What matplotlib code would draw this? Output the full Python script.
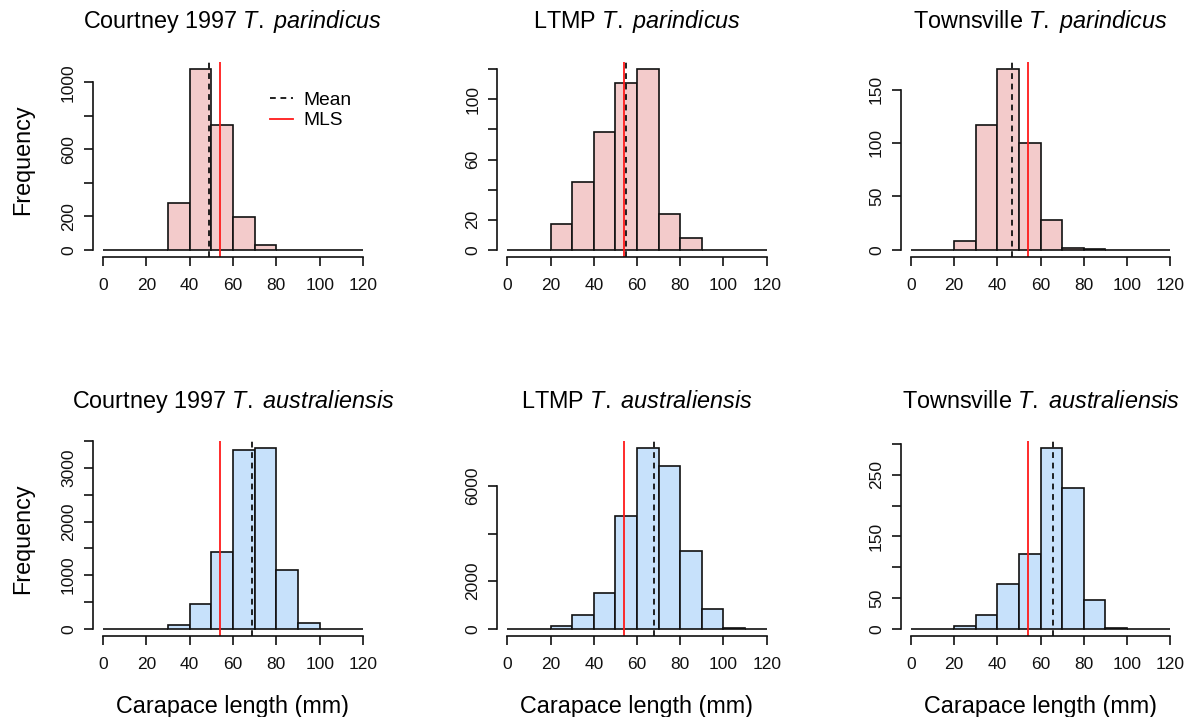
import matplotlib
matplotlib.use("Agg")
import matplotlib.pyplot as plt
from matplotlib.lines import Line2D
import numpy as np

plt.rcParams['font.family'] = ['Liberation Sans', 'DejaVu Sans']
plt.rcParams['mathtext.fontset'] = 'custom'
plt.rcParams['mathtext.rm'] = 'Liberation Sans'
plt.rcParams['mathtext.it'] = 'Liberation Sans:italic'

# histogram bins (mm), 10 mm wide, 0..120
breaks = np.arange(0, 130, 10)

# counts per bin
courtney_par = [0, 0, 0, 281, 1078, 743, 198, 30, 0, 0, 0, 0]
ltmp_par = [0, 0, 17, 45, 78, 111, 120, 24, 8, 0, 0, 0]
townsville_par = [0, 0, 8, 117, 169, 100, 28, 2, 1, 0, 0, 0]
courtney_aus = [0, 0, 0, 65, 467, 1431, 3345, 3369, 1089, 112, 0, 0]
ltmp_aus = [0, 0, 98, 573, 1514, 4724, 7585, 6828, 3252, 841, 40, 0]
townsville_aus = [0, 0, 5, 23, 72, 122, 293, 229, 46, 2, 0, 0]

# mean carapace length and minimum legal size
means_par = [49.0, 55.1, 46.6]
means_aus = [68.8, 68.0, 65.9]
mls = 54.0

sites = ["Courtney 1997", "LTMP", "Townsville"]
species = ["T.\\ parindicus", "T.\\ australiensis"]

# y ticks and the labels R actually kept
yticks = [
    [0, 200, 400, 600, 800, 1000],
    [0, 20, 40, 60, 80, 100, 120],
    [0, 50, 100, 150],
    [0, 500, 1000, 1500, 2000, 2500, 3000, 3500],
    [0, 2000, 4000, 6000],
    [0, 50, 100, 150, 200, 250, 300],
]
ylabels = [
    ["0", "200", "", "600", "", "1000"],
    ["0", "20", "", "60", "", "100", ""],
    ["0", "50", "100", "150"],
    ["0", "", "1000", "", "2000", "", "3000", ""],
    ["0", "2000", "", "6000"],
    ["0", "50", "", "150", "", "250", ""],
]

counts = [courtney_par, ltmp_par, townsville_par, courtney_aus, ltmp_aus, townsville_aus]
means = means_par + means_aus
fills = ["#F3CBCB"] * 3 + ["#C7E1FB"] * 3

W, H = 1189, 717
fig = plt.figure(figsize=(W / 100, H / 100), dpi=100)

col_left = [92.6, 496.9, 900.6]
col_right = [373.4, 777.1, 1180.7]
row_top = [62, 441]
row_bot = [257, 636]
title_base = [28.3, 407.7]

dash = (0, (3.2, 2.6))
ink = '#111111'

for i in range(6):
    r, c = divmod(i, 3)
    x0, x1 = col_left[c], col_right[c]
    y0, y1 = row_top[r], row_bot[r]
    ax = fig.add_axes([x0 / W, 1 - y1 / H, (x1 - x0) / W, (y1 - y0) / H])
    ax.patch.set_alpha(0)

    cnt = np.array(counts[i])
    ymax = cnt.max()
    ax.bar(breaks[:-1], cnt, width=10, align='edge', color=fills[i],
           edgecolor=ink, linewidth=1.2)
    ax.axvline(means[i], color=ink, linestyle=dash, linewidth=1.3)
    ax.axvline(mls, color='#ff1a1a', linewidth=1.3)

    ax.set_xlim(-4.8, 124.8)
    ax.set_ylim(-0.04 * ymax, 1.04 * ymax)
    for s in ['top', 'right']:
        ax.spines[s].set_visible(False)
    ax.spines['bottom'].set_bounds(0, 120)
    ax.spines['left'].set_bounds(0, yticks[i][-1])
    for s in ['bottom', 'left']:
        ax.spines[s].set_linewidth(1.2)
        ax.spines[s].set_color(ink)
    ax.set_xticks(np.arange(0, 121, 20))
    ax.set_yticks(yticks[i])
    ax.set_yticklabels(ylabels[i], rotation=90, va='center')
    ax.tick_params(axis='both', length=6.5, width=1.2, color=ink,
                   labelsize=12.5, direction='out', labelcolor=ink)
    ax.tick_params(axis='x', pad=8.5)
    ax.tick_params(axis='y', pad=5.5)

    xc = (x0 + x1) / 2 / W
    fig.text(xc, 1 - title_base[r] / H,
             sites[c] + " $\\it{" + species[r] + "}$",
             ha='center', va='baseline', fontsize=16.8)

    if c == 0:
        fig.text(22.5 / W, 1 - (y0 + y1) / 2 / H, "Frequency", rotation=90,
                 ha='center', va='center', fontsize=16.8)
    if r == 1:
        fig.text(xc, 1 - 713.3 / H, "Carapace length (mm)",
                 ha='center', va='baseline', fontsize=16.8)

    if i == 0:
        handles = [
            Line2D([], [], color=ink, linestyle=dash, linewidth=1.3),
            Line2D([], [], color='#ff1a1a', linewidth=1.3),
        ]
        ax.legend(handles, ["Mean", "MLS"], loc='upper left',
                  bbox_to_anchor=(270 / W, 1 - 91.5 / H),
                  bbox_transform=fig.transFigure, frameon=False,
                  fontsize=13.8, handlelength=1.2, handletextpad=0.55,
                  labelspacing=0.15, borderpad=0, borderaxespad=0)

fig.savefig("out.png", dpi=100)
